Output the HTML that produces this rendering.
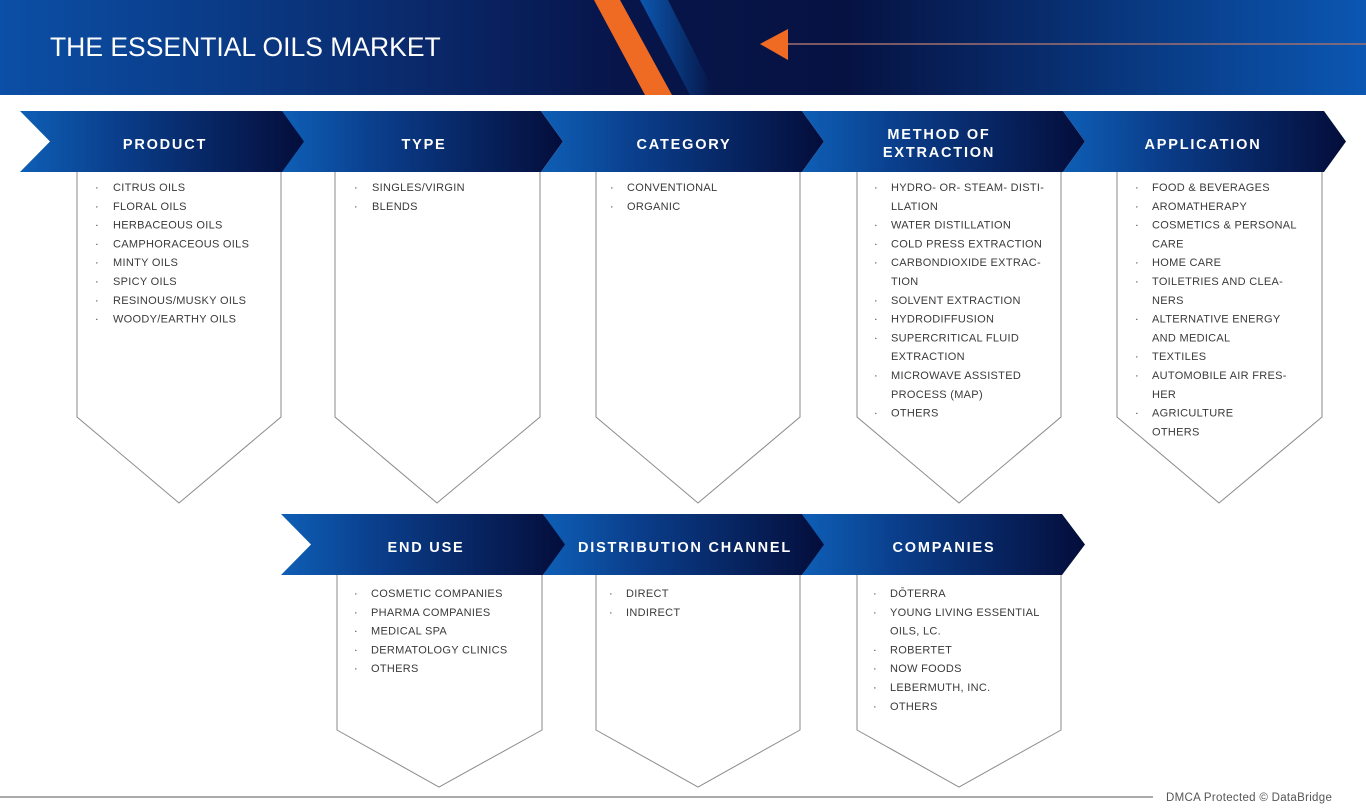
<!DOCTYPE html>
<html><head><meta charset="utf-8"><style>
html,body{margin:0;padding:0;background:#fff;}
svg{display:block;}
.t{font-family:"Liberation Sans",sans-serif;font-size:11px;fill:#3a3a3a;letter-spacing:0.3px;}
.h{font-family:"Liberation Sans",sans-serif;font-size:14.5px;font-weight:bold;fill:#fff;letter-spacing:1.8px;text-anchor:middle;}
</style></head><body>
<svg width="1366" height="808" viewBox="0 0 1366 808" xmlns="http://www.w3.org/2000/svg">
<defs>
<linearGradient id="hg" x1="0" x2="1" y1="0" y2="0">
<stop offset="0" stop-color="#0b4fa6"/><stop offset="0.3" stop-color="#0a2a6c"/><stop offset="0.45" stop-color="#07154a"/><stop offset="0.62" stop-color="#061242"/><stop offset="1" stop-color="#0b57b2"/>
</linearGradient>
<linearGradient id="cg" x1="0" x2="1" y1="0" y2="0">
<stop offset="0" stop-color="#0e5fb6"/><stop offset="0.35" stop-color="#0a3d8a"/><stop offset="1" stop-color="#040d3a"/>
</linearGradient>
<linearGradient id="sg" x1="0" x2="1" y1="0" y2="0">
<stop offset="0" stop-color="#0c58b0"/><stop offset="1" stop-color="#061242"/>
</linearGradient>
</defs>
<rect x="0" y="0" width="1366" height="95" fill="url(#hg)"/>
<polygon points="640,0 668,0 716,95 690,95" fill="url(#sg)"/>
<polygon points="594,0 620,0 672,95 645,95" fill="#ef6b24"/>
<line x1="786" y1="44" x2="1366" y2="44" stroke="#a07070" stroke-width="1.5"/>
<polygon points="760,44 788,29 788,60" fill="#ef6b24"/>
<text x="50" y="56" font-family="Liberation Sans,sans-serif" font-size="26.5" fill="#fff">THE ESSENTIAL OILS MARKET</text>

<g fill="url(#cg)">
<polygon points="20,111 283,111 305,141.5 283,172 20,172 50,141.5"/>
<polygon points="282,111 541,111 563,141.5 541,172 282,172 304,141.5"/>
<polygon points="541,111 802,111 824,141.5 802,172 541,172 563,141.5"/>
<polygon points="802,111 1063,111 1085,141.5 1063,172 802,172 824,141.5"/>
<polygon points="1063,111 1324,111 1346,141.5 1324,172 1063,172 1085,141.5"/>
<polygon points="281,514 543,514 566,544.5 543,575 281,575 311,544.5"/>
<polygon points="543,514 802,514 825,544.5 802,575 543,575 565,544.5"/>
<polygon points="802,514 1062,514 1085,544.5 1062,575 802,575 824,544.5"/>
</g>
<text class="h" x="165" y="149">PRODUCT</text>
<text class="h" x="424" y="149">TYPE</text>
<text class="h" x="684" y="149">CATEGORY</text>
<text class="h" x="939" y="139">METHOD OF</text>
<text class="h" x="939" y="157">EXTRACTION</text>
<text class="h" x="1203" y="149">APPLICATION</text>
<text class="h" x="426" y="552">END USE</text>
<text class="h" x="685" y="552">DISTRIBUTION CHANNEL</text>
<text class="h" x="944" y="552">COMPANIES</text>

<g fill="none" stroke="#8a8a8a" stroke-width="1">
<polyline points="77,172 77,417 179,503 281,417 281,172"/>
<polyline points="335,172 335,417 437,503 540,417 540,172"/>
<polyline points="596,172 596,417 698,503 800,417 800,172"/>
<polyline points="857,172 857,417 959,503 1061,417 1061,172"/>
<polyline points="1117,172 1117,417 1219,503 1322,417 1322,172"/>
<polyline points="337,575 337,730 439,787 542,730 542,575"/>
<polyline points="596,575 596,730 698,787 800,730 800,575"/>
<polyline points="857,575 857,730 959,787 1061,730 1061,575"/>
</g>
<line x1="0" y1="797" x2="1153" y2="797" stroke="#555" stroke-width="1"/>
<text x="1166" y="801" font-family="Liberation Sans,sans-serif" font-size="11.5" letter-spacing="0.3" fill="#555">DMCA Protected © DataBridge</text>

<g class="t">
<text x="95" y="191">·</text><text x="113" y="191">CITRUS OILS</text>
<text x="95" y="209.8">·</text><text x="113" y="209.8">FLORAL OILS</text>
<text x="95" y="228.6">·</text><text x="113" y="228.6">HERBACEOUS OILS</text>
<text x="95" y="247.4">·</text><text x="113" y="247.4">CAMPHORACEOUS OILS</text>
<text x="95" y="266.2">·</text><text x="113" y="266.2">MINTY OILS</text>
<text x="95" y="285">·</text><text x="113" y="285">SPICY OILS</text>
<text x="95" y="303.8">·</text><text x="113" y="303.8">RESINOUS/MUSKY OILS</text>
<text x="95" y="322.6">·</text><text x="113" y="322.6">WOODY/EARTHY OILS</text>

<text x="354" y="191">·</text><text x="372" y="191">SINGLES/VIRGIN</text>
<text x="354" y="209.8">·</text><text x="372" y="209.8">BLENDS</text>

<text x="610" y="191">·</text><text x="627" y="191">CONVENTIONAL</text>
<text x="610" y="209.8">·</text><text x="627" y="209.8">ORGANIC</text>

<text x="874" y="191">·</text><text x="891" y="191">HYDRO- OR- STEAM- DISTI-</text>
<text x="891" y="209.8">LLATION</text>
<text x="874" y="228.6">·</text><text x="891" y="228.6">WATER DISTILLATION</text>
<text x="874" y="247.4">·</text><text x="891" y="247.4">COLD PRESS EXTRACTION</text>
<text x="874" y="266.2">·</text><text x="891" y="266.2">CARBONDIOXIDE EXTRAC-</text>
<text x="891" y="285">TION</text>
<text x="874" y="303.8">·</text><text x="891" y="303.8">SOLVENT EXTRACTION</text>
<text x="874" y="322.6">·</text><text x="891" y="322.6">HYDRODIFFUSION</text>
<text x="874" y="341.4">·</text><text x="891" y="341.4">SUPERCRITICAL FLUID</text>
<text x="891" y="360.2">EXTRACTION</text>
<text x="874" y="379">·</text><text x="891" y="379">MICROWAVE ASSISTED</text>
<text x="891" y="397.8">PROCESS (MAP)</text>
<text x="874" y="416.6">·</text><text x="891" y="416.6">OTHERS</text>

<text x="1135" y="191">·</text><text x="1152" y="191">FOOD &amp; BEVERAGES</text>
<text x="1135" y="209.8">·</text><text x="1152" y="209.8">AROMATHERAPY</text>
<text x="1135" y="228.6">·</text><text x="1152" y="228.6">COSMETICS &amp; PERSONAL</text>
<text x="1152" y="247.4">CARE</text>
<text x="1135" y="266.2">·</text><text x="1152" y="266.2">HOME CARE</text>
<text x="1135" y="285">·</text><text x="1152" y="285">TOILETRIES AND CLEA-</text>
<text x="1152" y="303.8">NERS</text>
<text x="1135" y="322.6">·</text><text x="1152" y="322.6">ALTERNATIVE ENERGY</text>
<text x="1152" y="341.4">AND MEDICAL</text>
<text x="1135" y="360.2">·</text><text x="1152" y="360.2">TEXTILES</text>
<text x="1135" y="379">·</text><text x="1152" y="379">AUTOMOBILE AIR FRES-</text>
<text x="1152" y="397.8">HER</text>
<text x="1135" y="416.6">·</text><text x="1152" y="416.6">AGRICULTURE</text>
<text x="1152" y="435.4">OTHERS</text>

<text x="354" y="597">·</text><text x="371" y="597">COSMETIC COMPANIES</text>
<text x="354" y="615.8">·</text><text x="371" y="615.8">PHARMA COMPANIES</text>
<text x="354" y="634.6">·</text><text x="371" y="634.6">MEDICAL SPA</text>
<text x="354" y="653.4">·</text><text x="371" y="653.4">DERMATOLOGY CLINICS</text>
<text x="354" y="672.2">·</text><text x="371" y="672.2">OTHERS</text>

<text x="609" y="597">·</text><text x="626" y="597">DIRECT</text>
<text x="609" y="615.8">·</text><text x="626" y="615.8">INDIRECT</text>

<text x="873" y="597">·</text><text x="890" y="597">DŌTERRA</text>
<text x="873" y="615.8">·</text><text x="890" y="615.8">YOUNG LIVING ESSENTIAL</text>
<text x="890" y="634.6">OILS, LC.</text>
<text x="873" y="653.4">·</text><text x="890" y="653.4">ROBERTET</text>
<text x="873" y="672.2">·</text><text x="890" y="672.2">NOW FOODS</text>
<text x="873" y="691">·</text><text x="890" y="691">LEBERMUTH, INC.</text>
<text x="873" y="709.8">·</text><text x="890" y="709.8">OTHERS</text>
</g>
</svg>
</body></html>
